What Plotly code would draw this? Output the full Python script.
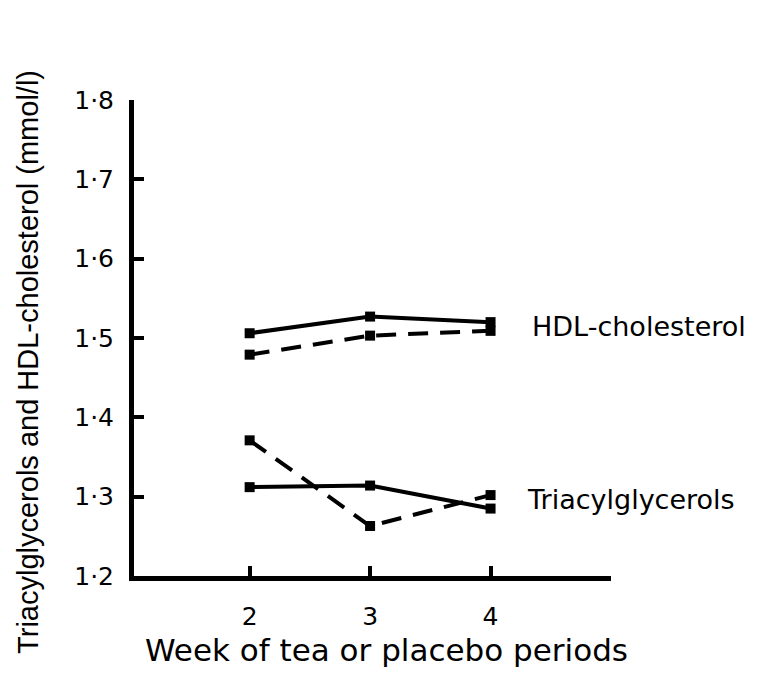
import plotly.graph_objects as go

weeks = [2, 3, 4]
hdl_tea = [1.506, 1.527, 1.520]
hdl_placebo = [1.479, 1.503, 1.509]
tg_tea = [1.312, 1.314, 1.285]
tg_placebo = [1.371, 1.263, 1.302]

y_ticks = [1.2, 1.3, 1.4, 1.5, 1.6, 1.7, 1.8]
y_tick_text = ["1·2", "1·3", "1·4", "1·5", "1·6", "1·7", "1·8"]
x_ticks = [2, 3, 4, 5]
x_tick_text = ["2", "3", "4", ""]

HFONT = "DejaVu Sans, Liberation Sans, Arial, sans-serif"
VFONT = "Liberation Sans, Arial, sans-serif"

fig = go.Figure()


def add(yvals, dash):
    fig.add_trace(go.Scatter(
        x=weeks, y=yvals, mode="lines+markers",
        line=dict(color="black", width=4, dash=dash),
        marker=dict(symbol="square", size=10, color="black"),
        showlegend=False, cliponaxis=False,
    ))


add(hdl_tea, "solid")
add(hdl_placebo, "20px,12px")
add(tg_tea, "solid")
add(tg_placebo, "20px,12px")

fig.add_annotation(x=4.33, y=1.514, text="HDL-cholesterol", showarrow=False,
                   xanchor="left", yanchor="middle",
                   font=dict(family=HFONT, size=27, color="black"))
fig.add_annotation(x=4.29, y=1.296, text="Triacylglycerols", showarrow=False,
                   xanchor="left", yanchor="middle",
                   font=dict(family=HFONT, size=27, color="black"))
# y-axis title as a rotated annotation (it sits lower than the axis centre)
fig.add_annotation(x=-0.222, y=0.45, xref="paper", yref="paper",
                   text="Triacylglycerols and HDL-cholesterol (mmol/l)",
                   textangle=-90, showarrow=False, xanchor="center", yanchor="middle",
                   font=dict(family=VFONT, size=29, color="black"))
# x-axis title
fig.add_annotation(x=0.53, y=-0.155, xref="paper", yref="paper",
                   text="Week of tea or placebo periods",
                   showarrow=False, xanchor="center", yanchor="middle",
                   font=dict(family=HFONT, size=31, color="black"))

fig.update_layout(
    width=763, height=684,
    margin=dict(l=126, r=160, t=92, b=116),
    paper_bgcolor="white", plot_bgcolor="white",
    font=dict(family=HFONT, color="black"),
)
fig.update_xaxes(
    range=[1.04, 5], tickvals=x_ticks, ticktext=x_tick_text,
    ticks="inside", ticklen=10, tickwidth=4, tickcolor="black",
    showline=True, linewidth=5, linecolor="black",
    showgrid=False, zeroline=False, ticklabelstandoff=14,
    tickfont=dict(family=HFONT, size=25, color="black"),
)
fig.update_yaxes(
    range=[1.2, 1.8], tickvals=y_ticks, ticktext=y_tick_text,
    ticks="inside", ticklen=10, tickwidth=4, tickcolor="black",
    showline=True, linewidth=5, linecolor="black",
    showgrid=False, zeroline=False, ticklabelstandoff=10,
    tickfont=dict(family=HFONT, size=25, color="black"),
)

fig.write_html("out.html")
